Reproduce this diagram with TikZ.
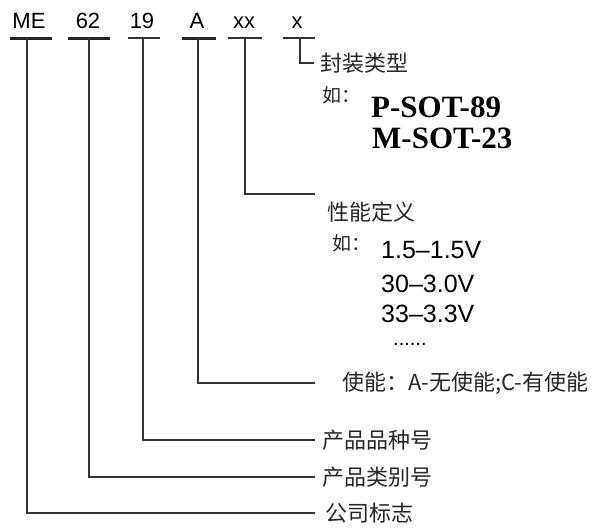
\documentclass[tikz,border=0pt]{standalone}
\usepackage{fontspec}
\setsansfont{Liberation Sans}
\setmainfont{Liberation Serif}
\newfontfamily\cjk{Noto Sans CJK SC}
\begin{document}
\begin{tikzpicture}[x=1pt,y=-1pt,
  toplab/.style={anchor=base,inner sep=0pt,font=\sffamily\fontsize{22}{24}\selectfont},
  heavy/.style={line width=3pt,black!85},
  light/.style={line width=1.4pt,black!80},
  conn/.style={line width=1.3pt,black!80},
  cjklab/.style={anchor=west,inner sep=0pt,text=black!85,font=\cjk\fontsize{22}{24}\selectfont},
  rulab/.style={anchor=west,inner sep=0pt,font=\cjk\fontsize{19}{21}\selectfont,text=black!85},
  volt/.style={anchor=base west,inner sep=0pt,font=\sffamily\fontsize{25}{27}\selectfont},
  pkg/.style={anchor=base west,inner sep=0pt,font=\rmfamily\bfseries\fontsize{31}{33}\selectfont}]
\useasboundingbox (0,0) rectangle (593,528);
% top labels
\node[toplab] (me) at (29,28) {ME};
\node[toplab] (n62) at (88,28) {62};
\node[toplab] (n19) at (142,28) {19};
\node[toplab] (na) at (197,28) {A};
\node[toplab] (nxx) at (244,28) {xx};
\node[toplab] (nx) at (297,28) {x};
% underlines
\draw[heavy] (10,38) -- (52,38);
\draw[heavy] (68,38) -- (110,38);
\draw[light] (128,38) -- (160,38);
\draw[heavy] (182,38) -- (216,38);
\draw[light] (228,38) -- (262,38);
\draw[light] (283,38) -- (315,38);
\coordinate (meU) at (27,38);
\coordinate (u62) at (89,38);
\coordinate (u19) at (143,38);
\coordinate (uA) at (198,38);
\coordinate (uxx) at (245,38);
\coordinate (ux) at (300,38);
% package type
\node[cjklab] (fz) at (320,63) {封装类型};
\node[rulab] (ru1) at (322,95) {如：};
\node[pkg] (p1) at (371,117) {P-SOT-89};
\node[pkg] (p2) at (372,148) {M-SOT-23};
\draw[conn] (ux) |- ([xshift=-6pt]fz.west);
% performance
\node[cjklab] (xn) at (327,212) {性能定义};
\node[rulab] (ru2) at (332,243) {如：};
\node[volt] (v1) at (381,258) {1.5–1.5V};
\node[volt] (v2) at (381,292) {30–3.0V};
\node[volt] (v3) at (381,322) {33–3.3V};
\node[anchor=base west,inner sep=0pt,font=\sffamily\fontsize{20}{22}\selectfont] (dots) at (393,345) {......};
\draw[conn] (uxx) |- ([xshift=-12pt]xn.west |- 0,194);
% enable
\node[cjklab] (en) at (342,383) {使能：A-无使能;C-有使能};
\draw[conn] (uA) |- ([xshift=-27pt]en.west);
% product
\node[cjklab] (pz) at (322,440) {产品品种号};
\draw[conn] (u19) |- ([xshift=-7pt]pz.west);
\node[cjklab] (lb) at (322,477) {产品类别号};
\draw[conn] (u62) |- ([xshift=-7pt]lb.west);
\node[cjklab] (gs) at (325,513) {公司标志};
\draw[conn] (meU) |- ([xshift=-10pt]gs.west);
\end{tikzpicture}
\end{document}
